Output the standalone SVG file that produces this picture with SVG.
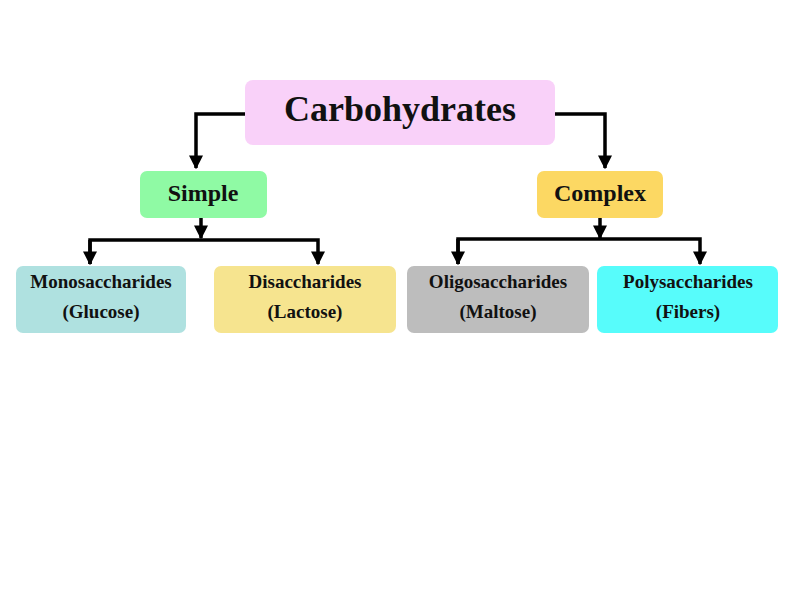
<svg xmlns="http://www.w3.org/2000/svg" width="800" height="600" viewBox="0 0 800 600">
<defs><marker id="ah" viewBox="0 0 10 10" refX="9" refY="5" markerWidth="4" markerHeight="4" orient="auto" markerUnits="strokeWidth"><path d="M0,0L10,5L0,10z" fill="#000"/></marker>
<style>text{font-family:"Liberation Serif",serif;font-weight:bold;text-anchor:middle;fill:#111}.s{font-size:19px}.m{font-size:24px}.l{stroke:#000;stroke-width:3.5;fill:none}</style></defs>
<rect width="800" height="600" fill="#fff"/>
<g id="connectors">
<path class="l" d="M245,114H196V168" marker-end="url(#ah)"/>
<path class="l" d="M555,114H605V168" marker-end="url(#ah)"/>
<path class="l" d="M201,218V238" marker-end="url(#ah)"/>
<path class="l" d="M90,264V240H318V264" marker-end="url(#ah)"/>
<path class="l" d="M90,240V264" marker-end="url(#ah)"/>
<path class="l" d="M600,218V238" marker-end="url(#ah)"/>
<path class="l" d="M458,264V239H700V264" marker-end="url(#ah)"/>
<path class="l" d="M458,239V264" marker-end="url(#ah)"/>
</g>
<g id="carbohydrates"><rect x="245" y="80" width="310" height="65" rx="8" fill="#f9d1f9"/><text x="400" y="121" font-size="36" textLength="232" lengthAdjust="spacingAndGlyphs">Carbohydrates</text></g>
<g id="simple"><rect x="140" y="171" width="127" height="47" rx="7" fill="#8ffaa4"/><text class="m" x="203" y="201">Simple</text></g>
<g id="complex"><rect x="537" y="171" width="126" height="47" rx="7" fill="#fcd863"/><text class="m" x="600" y="201">Complex</text></g>
<g id="mono"><rect x="16" y="266" width="170" height="67" rx="7" fill="#afe1e0"/><text class="s" x="101" y="288">Monosaccharides</text><text class="s" x="101" y="318">(Glucose)</text></g>
<g id="di"><rect x="214" y="266" width="182" height="67" rx="7" fill="#f6e48f"/><text class="s" x="305" y="288">Disaccharides</text><text class="s" x="305" y="318">(Lactose)</text></g>
<g id="oligo"><rect x="407" y="266" width="182" height="67" rx="7" fill="#bdbdbd"/><text class="s" x="498" y="288">Oligosaccharides</text><text class="s" x="498" y="318">(Maltose)</text></g>
<g id="poly"><rect x="597" y="266" width="181" height="67" rx="7" fill="#57fcfb"/><text class="s" x="688" y="288">Polysaccharides</text><text class="s" x="688" y="318">(Fibers)</text></g>
</svg>
